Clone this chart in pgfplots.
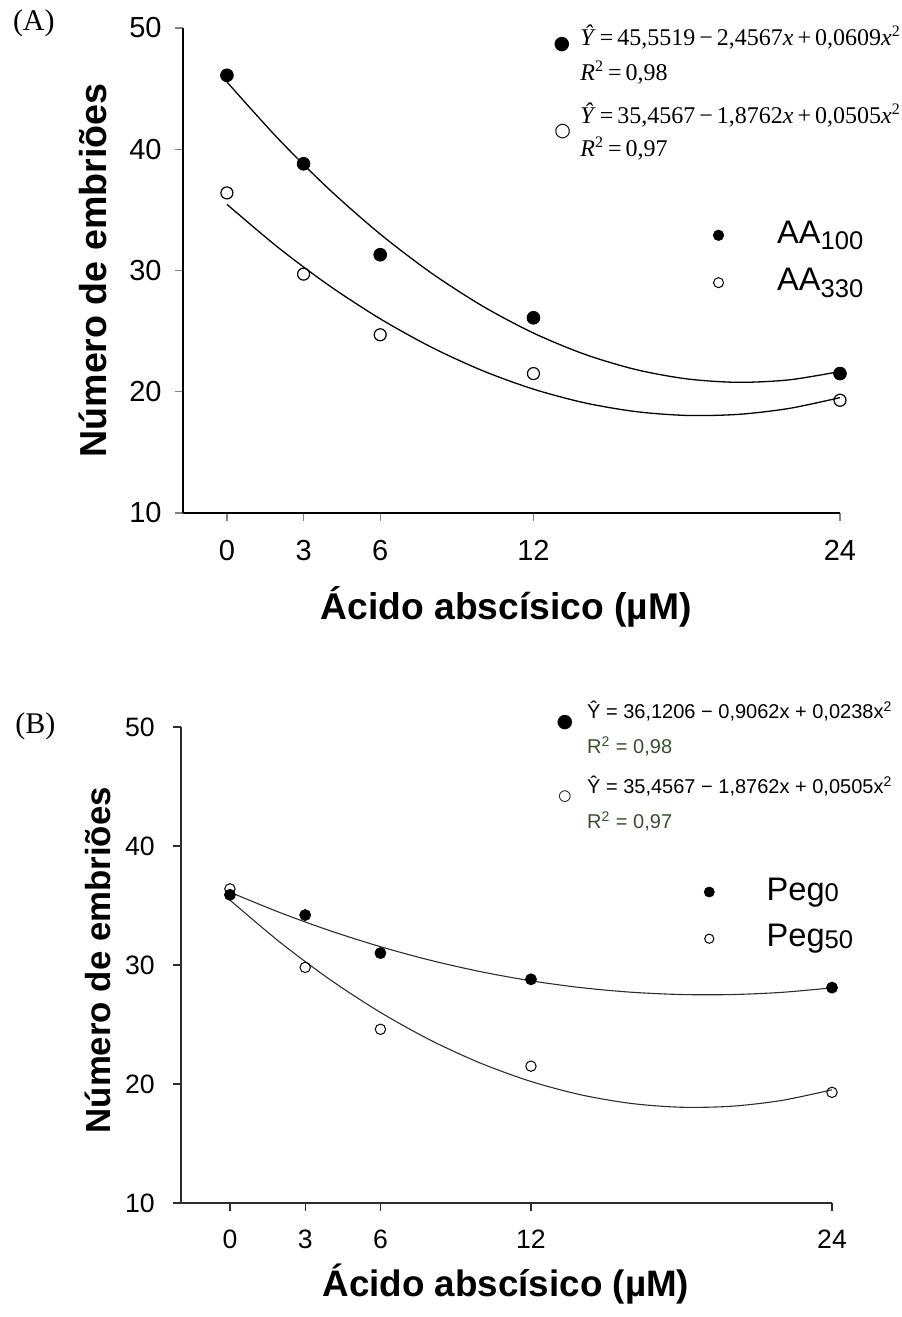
\documentclass[border=0pt]{standalone}
\usepackage{fontspec}
\setmainfont{Liberation Sans}
\newfontfamily\timesf{Liberation Serif}
\newfontfamily\dejavu{DejaVu Sans}
\usepackage{pgfplots}
\pgfplotsset{compat=1.18}
\definecolor{rgreen}{RGB}{55,80,45}
\definecolor{bgrey}{RGB}{45,45,45}

\pgfplotsset{
  panel/.style={
    anchor=south west, scale only axis, clip=false,
    ymin=10, ymax=50, xmax=24,
    axis x line*=bottom, axis y line*=left,
    axis line style={-, line width=0.6pt},
    xtick={0,3,6,12,24}, ytick={10,20,30,40,50},
    tick align=outside, major tick length=4pt,
    tick style={line width=0.6pt},
    /pgf/number format/assume math mode=true,
    legend cell align=left,
    legend image code/.code={\draw[##1] plot coordinates {(0pt,0pt)};},
  },
}

\begin{document}
\begin{tikzpicture}
\path[use as bounding box] (0pt,0pt) rectangle (450.5pt,-658.5pt);

% ---------- (A) ----------
\begin{axis}[panel,
  at={(91.5pt,-256.5pt)}, width=328.5pt, height=242.5pt,
  xmin=-1.72,
  tick label style={font=\fontsize{14.5}{17}\selectfont},
  xticklabel style={anchor=north, inner sep=0pt, yshift=-9.5pt},
  yticklabel style={anchor=east, inner sep=0pt, xshift=-6.5pt},
  xlabel={\bfseries Ácido abscísico (µM)},
  ylabel={\bfseries Número de embriões},
  xlabel style={font=\fontsize{18.6}{22}\selectfont, at={(axis description cs:0.492,-0.2206)}, anchor=base},
  ylabel style={font=\fontsize{18.8}{22}\selectfont, at={(axis description cs:-0.117,0.5)}, anchor=base, rotate=0},
  legend style={draw=none, fill=none, inner sep=0pt, outer sep=0pt,
    at={(axis description cs:0.8072,0.6056)}, anchor=north west,
    row sep=7.7pt, column sep=26.7pt,
    nodes={inner sep=0pt, text height=12pt, text depth=4pt, font=\fontsize{16.3}{18}\selectfont}},
]
\addlegendimage{only marks, mark=*, mark size=2.6pt, black}
\addlegendentry{AA\raisebox{-3.3pt}{\fontsize{12.8}{14}\selectfont 100}}
\addlegendimage{only marks, mark=o, mark size=2.5pt, black, line width=0.5pt}
\addlegendentry{AA\raisebox{-3.3pt}{\fontsize{12.8}{14}\selectfont 330}}
% fitted curves
\addplot[black, line width=0.65pt, smooth] coordinates {
  (0,45.552) (2,40.882) (4,36.700) (6,33.004) (8,29.796) (10,27.075) (12,24.841)
  (14,23.095) (16,21.835) (18,21.063) (20,20.778) (22,20.980) (24,21.670)};
\addplot[black, line width=0.65pt, smooth] coordinates {
  (0,35.457) (2,31.906) (4,28.760) (6,26.018) (8,23.679) (10,21.745) (12,20.214)
  (14,19.088) (16,18.365) (18,18.047) (20,18.133) (22,18.622) (24,19.516)};
% observed means
\addplot[only marks, mark=*, mark size=3.2pt, black] coordinates {
  (0,46.1) (3,38.8) (6,31.3) (12,26.1) (24,21.5)};
\addplot[only marks, mark=o, mark size=3.0pt, black, line width=0.6pt,
  mark options={fill=white}] coordinates {
  (0,36.4) (3,29.7) (6,24.7) (12,21.5) (24,19.3)};
\end{axis}

\node[anchor=west, inner sep=0pt, font=\timesf\fontsize{15}{17}\selectfont] at (6.3pt,-11.7pt) {(A)};
\begin{scope}[every node/.style={inner sep=0pt}]
\node[font=\dejavu\fontsize{9.5}{10}\selectfont] at (281pt,-22.5pt) {●};
\node[font=\dejavu\fontsize{9.5}{10}\selectfont] at (281.3pt,-65.8pt) {○};
\node[anchor=base west, font=\timesf\fontsize{12}{14}\selectfont] at (290pt,-22.5pt)
  {\textit{Ŷ}\,=\,45,5519\,−\,2,4567\textit{x}\,+\,0,0609\textit{x}\textsuperscript{2}};
\node[anchor=base west, font=\timesf\fontsize{12}{14}\selectfont] at (290pt,-40pt)
  {\textit{R}\textsuperscript{2}\,=\,0,98};
\node[anchor=base west, font=\timesf\fontsize{12}{14}\selectfont] at (290pt,-61.5pt)
  {\textit{Ŷ}\,=\,35,4567\,−\,1,8762\textit{x}\,+\,0,0505\textit{x}\textsuperscript{2}};
\node[anchor=base west, font=\timesf\fontsize{12}{14}\selectfont] at (290pt,-78.3pt)
  {\textit{R}\textsuperscript{2}\,=\,0,97};
\end{scope}

% ---------- (B) ----------
\begin{axis}[panel,
  at={(90.5pt,-601.5pt)}, width=325.5pt, height=238pt,
  xmin=-1.95,
  axis line style={bgrey}, tick style={bgrey},
  tick label style={font=\fontsize{13.3}{16}\selectfont},
  xticklabel style={anchor=north, inner sep=0pt, yshift=-9.5pt},
  yticklabel style={anchor=east, inner sep=0pt, xshift=-9pt},
  xlabel={\bfseries Ácido abscísico (µM)},
  ylabel={\bfseries Número de embriões},
  xlabel style={font=\fontsize{18.4}{22}\selectfont, at={(axis description cs:0.499,-0.197)}, anchor=base},
  ylabel style={font=\fontsize{17.4}{21}\selectfont, at={(axis description cs:-0.109,0.51)}, anchor=base, rotate=0},
  legend style={draw=none, fill=none, inner sep=0pt, outer sep=0pt,
    at={(axis description cs:0.8038,0.687)}, anchor=north west,
    row sep=7.35pt, column sep=26.2pt,
    nodes={inner sep=0pt, text height=12pt, text depth=4pt, font=\fontsize{16.3}{18}\selectfont}},
]
\addlegendimage{only marks, mark=*, mark size=2.5pt, black}
\addlegendentry{Peg\raisebox{-0.9pt}{\fontsize{12.8}{14}\selectfont 0}}
\addlegendimage{only marks, mark=o, mark size=2.3pt, black, line width=0.5pt}
\addlegendentry{Peg\raisebox{-0.9pt}{\fontsize{12.8}{14}\selectfont 50}}
\addplot[bgrey, line width=0.55pt, smooth] coordinates {
  (0,36.121) (2,34.403) (4,32.877) (6,31.540) (8,30.394) (10,29.439) (12,28.673)
  (14,28.099) (16,27.714) (18,27.520) (20,27.517) (22,27.703) (24,28.081)};
\addplot[bgrey, line width=0.55pt, smooth] coordinates {
  (0,35.457) (2,31.906) (4,28.760) (6,26.018) (8,23.679) (10,21.745) (12,20.214)
  (14,19.088) (16,18.365) (18,18.047) (20,18.133) (22,18.622) (24,19.516)};
\addplot[only marks, mark=*, mark size=2.75pt, black] coordinates {
  (0,35.9) (3,34.2) (6,31.0) (12,28.8) (24,28.1)};
\addplot[only marks, mark=o, mark size=2.6pt, black, line width=0.5pt,
  mark options={fill=white}] coordinates {
  (0,36.4) (3,29.8) (6,24.6) (12,21.5) (24,19.3)};
\end{axis}

\node[anchor=west, inner sep=0pt, font=\timesf\fontsize{15}{17}\selectfont] at (7.5pt,-363pt) {(B)};
\begin{scope}[every node/.style={inner sep=0pt}]
\node[font=\dejavu\fontsize{9.5}{10}\selectfont] at (282.5pt,-361.3pt) {●};
\node[font=\dejavu\fontsize{7.5}{8}\selectfont] at (282.5pt,-398.3pt) {○};
\node[anchor=base west, font=\fontsize{10}{12}\selectfont] at (293.4pt,-359.2pt)
  {Ŷ = 36,1206 − 0,9062x + 0,0238x\textsuperscript{2}};
\node[anchor=base west, font=\fontsize{10}{12}\selectfont, text=rgreen] at (293.4pt,-376.7pt)
  {R\textsuperscript{2} = 0,98};
\node[anchor=base west, font=\fontsize{10}{12}\selectfont] at (293.4pt,-396.7pt)
  {Ŷ = 35,4567 − 1,8762x + 0,0505x\textsuperscript{2}};
\node[anchor=base west, font=\fontsize{10}{12}\selectfont, text=rgreen] at (293.4pt,-414.2pt)
  {R\textsuperscript{2} = 0,97};
\end{scope}
\end{tikzpicture}
\end{document}
